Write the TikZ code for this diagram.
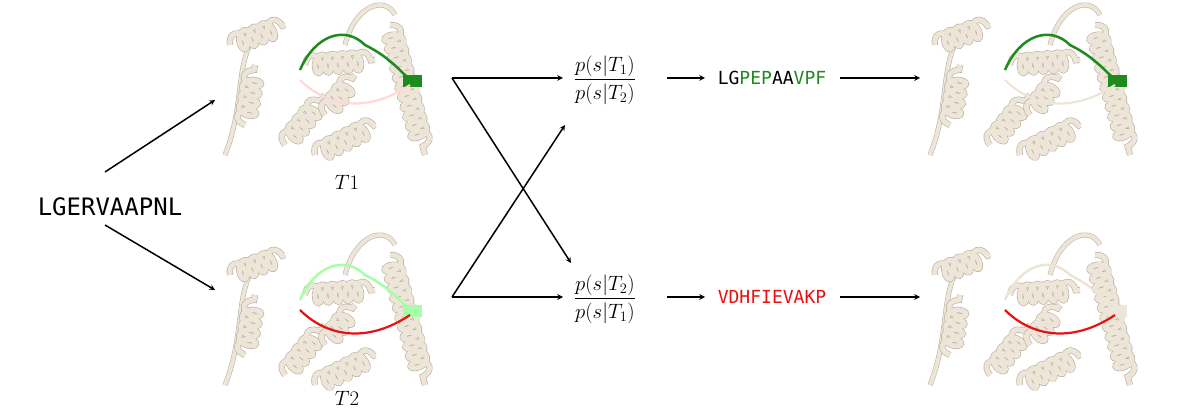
\documentclass[tikz,border=0pt]{standalone}
\usepackage{amsmath}
\usepackage{fontspec}
\setmonofont{DejaVu Sans Mono}
\usetikzlibrary{decorations.pathmorphing}
\definecolor{beige}{HTML}{EDE5D8}
\definecolor{beigeD}{HTML}{B8AE9F}
\definecolor{gr}{HTML}{1E8B1E}
\definecolor{rd}{HTML}{E81010}
\begin{document}
\begin{tikzpicture}[x=1pt,y=-1pt,
  arr/.style={->,>=stealth,line width=1.5pt},
  seq/.style={font=\ttfamily\fontsize{18}{22}\selectfont},
  big/.style={font=\fontsize{20}{24}\selectfont},
  helix/.style={draw=beigeD,line width=0.6pt,double=beige,double distance=5pt,
    decorate,decoration={coil,aspect=0.6,segment length=10pt,amplitude=9pt}},
  tube/.style={draw=beigeD,line width=0.5pt,double=beige,double distance=4pt},
  pics/prot/.style args={#1/#2}{code={
    \draw[tube] (0,150) .. controls (20,100) and (10,60) .. (30,30);
    \draw[helix] (5,40) -- (60,20);
    \draw[helix] (20,120) -- (30,60);
    \draw[helix] (60,140) -- (100,90);
    \draw[helix] (90,150) -- (150,120);
    \draw[helix] (165,20) -- (200,150);
    \draw[tube] (120,40) .. controls (130,0) and (160,-10) .. (170,10);
    \draw[helix] (80,60) -- (150,55);
    \draw[helix] (100,110) -- (130,70);
    \draw[line width=2.5pt,#1] (75,65) .. controls (90,30) and (120,20) .. (140,40)
      .. controls (160,50) and (170,60) .. (185,75);
    \fill[#1] (178,70) rectangle (197,82);
    \draw[line width=2.2pt,#2] (75,75) .. controls (100,100) and (140,110) .. (185,80);
  }}]
\useasboundingbox (0,0) rectangle (1200,411);
% proteins
\begin{scope}[shift={(225,5)}] \pic {prot={gr}/{pink!60}}; \end{scope}
\begin{scope}[shift={(225,235)}] \pic {prot={green!35}/{rd}}; \end{scope}
\begin{scope}[shift={(930,5)}] \pic {prot={gr}/{beige}}; \end{scope}
\begin{scope}[shift={(930,235)}] \pic {prot={beige}/{rd}}; \end{scope}
% nodes
\node[seq,font=\ttfamily\fontsize{24}{28}\selectfont] (in) at (110,207) {LGERVAAPNL};
\node[big] (t1) at (347,182) {$T1$};
\node[big] (t2) at (347,398) {$T2$};
\coordinate (p1) at (215,100);
\coordinate (p2) at (215,290);
\coordinate (o1) at (452,78);
\coordinate (o2) at (452,297);
\node[big] (f1) at (605,80) {$\dfrac{p(s|T_1)}{p(s|T_2)}$};
\node[big] (f2) at (605,299) {$\dfrac{p(s|T_2)}{p(s|T_1)}$};
\node[seq] (s1) at (772,78) {LG\textcolor{gr}{PEP}AA\textcolor{gr}{VPF}};
\node[seq,text=rd] (s2) at (772,297) {VDHFIEVAKP};
\coordinate (q1) at (920,78);
\coordinate (q2) at (920,297);
% arrows
\draw[arr] (105,172) -- (p1);
\draw[arr] (105,225) -- (p2);
\draw[arr] (o1) -- (563,78);
\draw[arr] (o1) -- (571,263);
\draw[arr] (o2) -- (563,297);
\draw[arr] (o2) -- (565,125);
\draw[arr] (667,78) -- (705,78);
\draw[arr] (667,297) -- (705,297);
\draw[arr] (840,78) -- (q1);
\draw[arr] (840,297) -- (q2);
\end{tikzpicture}
\end{document}
